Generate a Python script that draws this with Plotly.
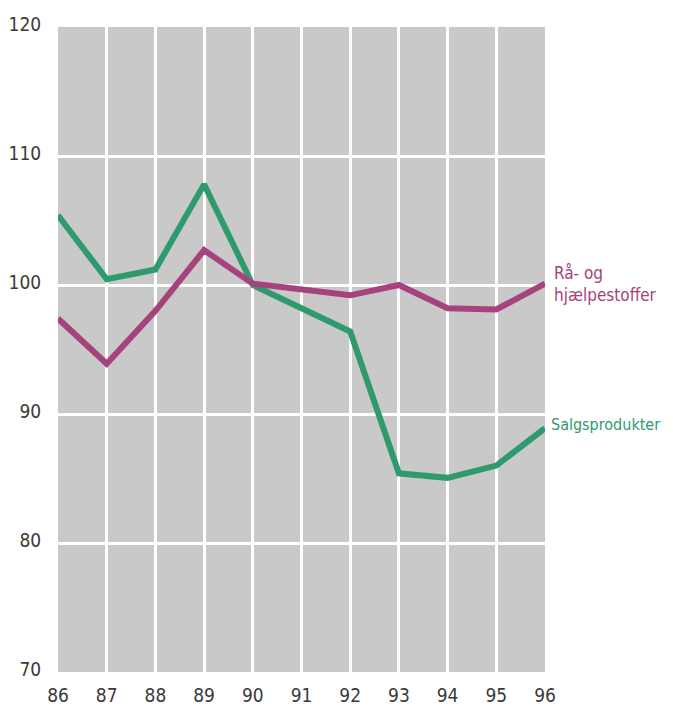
import plotly.graph_objects as go

years = [86, 87, 88, 89, 90, 91, 92, 93, 94, 95, 96]
year_labels = ["86", "87", "88", "89", "90", "91", "92", "93", "94", "95", "96"]
salgsprodukter = [105.4, 100.45, 101.2, 107.8, 100.0, 98.2, 96.4, 85.4, 85.05, 86.0, 88.9]
raa_hjaelp = [97.4, 93.9, 98.0, 102.7, 100.1, 99.7, 99.2, 100.0, 98.2, 98.1, 100.1]
y_ticks = [70, 80, 90, 100, 110, 120]

GREEN = "#2f9a6e"
PURPLE = "#a6437c"
FONT = "DejaVu Sans Condensed"

fig = go.Figure()
fig.add_trace(go.Scatter(x=years, y=salgsprodukter, mode="lines",
                         line=dict(color=GREEN, width=6), name="Salgsprodukter"))
fig.add_trace(go.Scatter(x=years, y=raa_hjaelp, mode="lines",
                         line=dict(color=PURPLE, width=6), name="Rå- og hjælpestoffer"))

fig.add_annotation(x=96, y=100, text="Rå- og<br>hjælpestoffer", showarrow=False,
                   xanchor="left", yanchor="middle", xshift=7, yshift=1, align="left",
                   font=dict(family=FONT, size=17, color=PURPLE))
fig.add_annotation(x=96, y=salgsprodukter[-1], text="Salgsprodukter", showarrow=False,
                   xanchor="left", yanchor="middle", xshift=4, yshift=4, align="left",
                   font=dict(family=FONT, size=16, color=GREEN))

# page body has an 8px margin, so the figure is 8px smaller than the window
fig.update_layout(
    width=665, height=699,
    margin=dict(l=50, r=128, t=19, b=35),
    paper_bgcolor="white",
    plot_bgcolor="#c9c9c9",
    showlegend=False,
    font=dict(family=FONT, size=19, color="#3a3a3a"),
)
fig.update_xaxes(range=[86, 96], tickvals=years, ticktext=year_labels,
                 showgrid=True, gridcolor="white", gridwidth=3,
                 zeroline=False, showline=False, automargin=False,
                 ticks="outside", ticklen=6, tickcolor="rgba(0,0,0,0)",
                 tickfont=dict(family=FONT, size=19, color="#3a3a3a"))
fig.update_yaxes(range=[70, 120], tickvals=y_ticks, ticktext=[str(v) for v in y_ticks],
                 showgrid=True, gridcolor="white", gridwidth=3,
                 zeroline=False, showline=False, automargin=False,
                 ticks="outside", ticklen=12, tickcolor="rgba(0,0,0,0)",
                 ticklabelshift=-3,
                 tickfont=dict(family=FONT, size=19, color="#3a3a3a"))

fig.write_html("out.html")
